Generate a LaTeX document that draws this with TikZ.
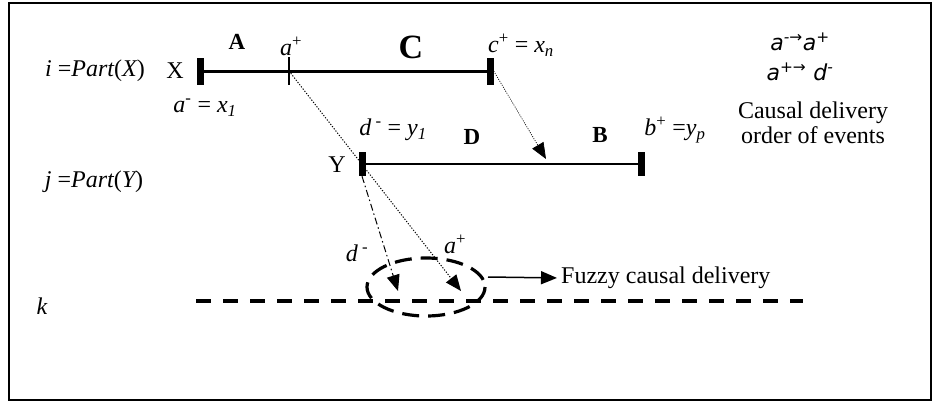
\documentclass[tikz,border=0pt]{standalone}
\usepackage{fontspec}
\setmainfont{Liberation Serif}
\newfontfamily\ordfont{DejaVu Sans}
\usetikzlibrary{arrows.meta}
\begin{document}
\begin{tikzpicture}[x=1pt,y=-1pt,
  lbl/.style={inner sep=0pt,font=\fontsize{24}{27}\selectfont},
  blbl/.style={inner sep=0pt,font=\fontsize{23}{26}\selectfont\bfseries},
  bar/.style={fill=black,inner sep=0pt,minimum width=7pt,minimum height=27pt},
  tick/.style={draw=none,inner sep=0pt,minimum width=1pt,minimum height=27pt},
  tri/.style={-{Triangle[length=16pt,width=13pt]}},
  msg/.style={line width=1pt,dash pattern=on 1.2pt off 1.6pt},
  fine/.style={line width=0.7pt,dash pattern=on 1pt off 1.3pt},
  dashdot/.style={line width=1pt,dash pattern=on 7pt off 3pt on 1.5pt off 3pt}]
\useasboundingbox (0,0) rectangle (938,405);
\draw[line width=1.2pt] (9,3) rectangle (931,400);
% process i
\node[bar] (xbar) at (200,71) {};
\node[bar] (cbar) at (490,71) {};
\draw[line width=3pt] (xbar.center) -- (cbar.center);
\node[tick] (aplus) at (289,71) {};
\draw[line width=1.2pt] (aplus.north) -- (aplus.south);
% process j
\node[bar,minimum height=24pt] (ybar) at (362,164) {};
\node[bar,minimum height=24pt] (bbar) at (641,164) {};
\draw[line width=2.6pt] (ybar.center) -- (bbar.center);
% process k
\coordinate (k1) at (196,301);
\coordinate (k2) at (803,301);
\draw[line width=3.5pt,dash pattern=on 15pt off 12pt] (k1) -- (k2);
% labels
\node[lbl] (ilab) at (95,71) {\itshape i\/ \upshape=\itshape Part\upshape(\itshape X\upshape)};
\node[lbl] (jlab) at (94,182) {\itshape j\/ \upshape=\itshape Part\upshape(\itshape Y\upshape)};
\node[lbl] (klab) at (42,306) {\itshape k};
\node[lbl] (xlab) at (175,71) {X};
\node[lbl] (ylab) at (337,165) {Y};
\node[blbl] (Alab) at (237,42) {A};
\node[inner sep=0pt,font=\fontsize{34}{36}\selectfont\bfseries] (Clab) at (411,47) {C};
\node[blbl] (Dlab) at (472,137) {D};
\node[blbl] (Blab) at (600,135) {B};
\node[lbl] (aplab) at (291,46) {\itshape a\upshape\textsuperscript{+}};
\node[lbl] (cplab) at (521,45) {\itshape c\upshape\textsuperscript{+} = \itshape x\textsubscript{n}};
\node[lbl] (amlab) at (205,108) {\itshape a\upshape\textsuperscript{-} = \itshape x\textsubscript{1}};
\node[lbl] (dmlab) at (393,130) {\itshape d\upshape\textsuperscript{ -} = \itshape y\textsubscript{1}};
\node[lbl] (bplab) at (675,130) {\itshape b\upshape\textsuperscript{+} =\itshape y\textsubscript{p}};
\node[lbl] (dm2) at (357,253) {\itshape d\upshape\textsuperscript{ -}};
\node[lbl] (ap2) at (455,244) {\itshape a\upshape\textsuperscript{+}};
% causal order
\node[inner sep=0pt,align=center,font=\ordfont\fontsize{22}{30}\selectfont\itshape] (ord) at (800,57)
  {a\textsuperscript{-→}a\textsuperscript{+}\\
   a\textsuperscript{+→}\ d\textsuperscript{-}};
\node[lbl,align=center] (ord3) at (813,123) {Causal delivery\\[-2pt]order of events};
% fuzzy
\coordinate (ec) at (426,287);
\draw[line width=3.2pt,dash pattern=on 17pt off 9pt] (ec) ellipse [x radius=59, y radius=29];
\node[lbl,anchor=west] (fuzzy) at (561,278) {Fuzzy causal delivery};
\coordinate (fs) at (488,277);
\draw[tri,line width=1.5pt,shorten >=4pt] (fs) -- (fuzzy.west);
% messages
\coordinate (aend) at (461,291);
\coordinate (dend) at (398,291);
\coordinate (cend) at (546,159);
\draw[msg,tri] (aplus.center) -- (aend);
\draw[dashdot,tri] (ybar.south) -- (dend);
\draw[fine,tri] (cbar.east) -- (cend);
\end{tikzpicture}
\end{document}
